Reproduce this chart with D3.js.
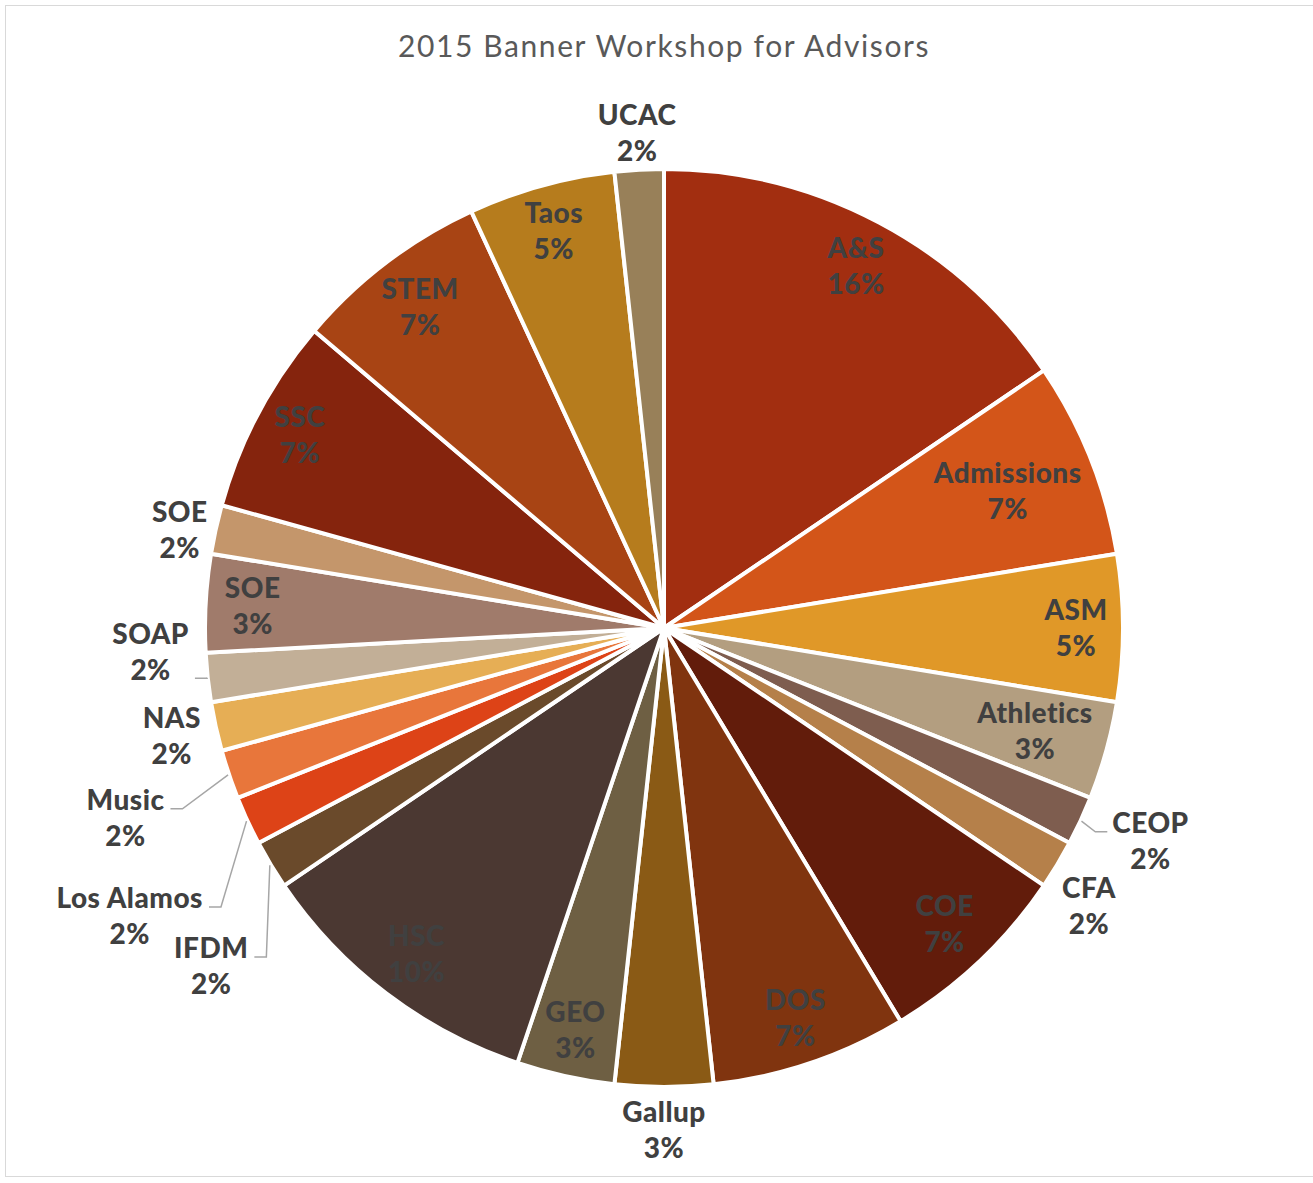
<!DOCTYPE html>
<html>
<head>
<meta charset="utf-8">
<script src="https://cdn.jsdelivr.net/npm/d3@7"></script>
<style>
  body { margin: 0; background: #fff; }
  svg { display: block; }
</style>
</head>
<body>
<div id="chart"></div>
<script>
// advisors attending, by unit (slices go clockwise from 12 o'clock)
var categories = ["A&S", "Admissions", "ASM", "Athletics", "CEOP", "CFA", "COE", "DOS",
                  "Gallup", "GEO", "HSC", "IFDM", "Los Alamos", "Music", "NAS", "SOAP",
                  "SOE", "SOE", "SSC", "STEM", "Taos", "UCAC"];
var counts = [9, 4, 3, 2, 1, 1, 4, 4, 2, 2, 6, 1, 1, 1, 1, 1, 2, 1, 4, 4, 3, 1];
var chartTitle = "2015 Banner Workshop for Advisors";

var sliceColors = ["#A22E10", "#D35519", "#E09828", "#B39E80", "#7E5D4F", "#B5804A",
                   "#621C0B", "#80340F", "#8A5A15", "#6E5F43", "#4B3832", "#6A4A2B",
                   "#DD4317", "#E8763B", "#E6AE55", "#C2AF97", "#A07B6B", "#C4966B",
                   "#85240D", "#A84414", "#B67C1D", "#988059"];

// small slices get their label outside the pie (angle nudge in degrees, radius in px)
var outsideLabels = {
    4:  {dAngle: -1.2, r: 531, leader: true},
    5:  {dAngle: 2.2,  r: 508},
    8:  {dAngle: 0,    r: 502},
    11: {dAngle: -5.7, r: 565, leader: true},
    12: {dAngle: -3.5, r: 607, leader: true},
    13: {dAngle: -0.8, r: 571, leader: true},
    14: {dAngle: 0,    r: 504},
    15: {dAngle: 3.5,  r: 514, leader: true, attachDy: 26},
    17: {dAngle: -1.0, r: 494},
    21: {dAngle: 0,    r: 496}
};

var width = 1313, height = 1183;
var cx = 664, cy = 628;
var radius = 459;          // drawn radius, white 4px border eats 2px
var visibleR = radius - 2;
var lineGap = 36, capH = 20;
var textColor = "#404040";

var svg = d3.select("#chart").append("svg")
    .attr("width", width)
    .attr("height", height);

svg.append("rect")
    .attr("x", 5.5).attr("y", 5.5)
    .attr("width", width + 20).attr("height", 1171)
    .style("fill", "none")
    .style("stroke", "#d9d9d9")
    .style("stroke-width", 1);

svg.append("text")
    .attr("x", cx)
    .attr("y", 57)
    .style("font-family", "Lato, 'Open Sans', sans-serif")
    .style("font-size", "30px")
    .style("letter-spacing", "1.6px")
    .style("fill", "#595959")
    .style("text-anchor", "middle")
    .text(chartTitle);

var total = d3.sum(counts);
var fmtPct = d3.format(".0%");

var pie = d3.pie().sort(null).value(function(d) { return d; });
var arcs = pie(counts);

var arc = d3.arc().innerRadius(0).outerRadius(radius);

var g = svg.append("g").attr("transform", "translate(" + cx + "," + cy + ")");

g.selectAll("path.slice")
    .data(arcs)
    .enter().append("path")
    .attr("class", "slice")
    .attr("d", arc)
    .style("fill", function(d, i) { return sliceColors[i]; })
    .style("stroke", "#fff")
    .style("stroke-width", 4)
    .style("stroke-linejoin", "round");

var labels = g.selectAll("text.lbl")
    .data(arcs)
    .enter().append("text")
    .attr("class", "lbl")
    .style("font-family", "Lato, 'Open Sans', sans-serif")
    .style("font-weight", 900)
    .style("font-size", "28px")
    .style("letter-spacing", "0.5px")
    .style("fill", textColor)
    .style("text-anchor", "middle");

labels.append("tspan").attr("class", "l1").text(function(d, i) { return categories[i]; });
labels.append("tspan").attr("class", "l2").text(function(d) { return fmtPct(d.value / total); });

function fitsInside(px, py, w, h, pad) {
    var lim = visibleR - pad;
    var xs = [px - w / 2, px + w / 2], ys = [py - h / 2, py + h / 2];
    for (var a = 0; a < 2; a++) {
        for (var b = 0; b < 2; b++) {
            if (Math.sqrt(xs[a] * xs[a] + ys[b] * ys[b]) > lim) return false;
        }
    }
    return true;
}

labels.each(function(d, i) {
    var t = d3.select(this);
    var w = Math.max(t.select(".l1").node().getComputedTextLength(),
                     t.select(".l2").node().getComputedTextLength());
    var h = capH + lineGap;
    var mid = (d.startAngle + d.endAngle) / 2;
    var pos;
    var conf = outsideLabels[i];
    if (conf) {
        pos = d3.pointRadial(mid + conf.dAngle * Math.PI / 180, conf.r);
    } else {
        var r = 412;
        pos = d3.pointRadial(mid, r);
        while (r > 0 && !fitsInside(pos[0], pos[1], w, h, 8)) {
            r -= 1;
            pos = d3.pointRadial(mid, r);
        }
    }
    var y1 = pos[1] - 8;
    t.select(".l1").attr("x", pos[0]).attr("y", y1);
    t.select(".l2").attr("x", pos[0]).attr("y", y1 + lineGap);

    if (conf && conf.leader) {
        var start = d3.pointRadial(mid, visibleR + 3);
        var right = pos[0] > 0;
        var ay = pos[1] + (conf.attachDy !== undefined ? conf.attachDy : -9);
        var endX = right ? pos[0] - w / 2 - 5 : pos[0] + w / 2 + 6;
        var elbowX = right ? endX - 12 : endX + 12;
        g.append("path")
            .attr("d", d3.line()([start, [elbowX, ay], [endX, ay]]))
            .style("fill", "none")
            .style("stroke", "#A6A6A6")
            .style("stroke-width", 1.5);
    }
});
</script>
</body>
</html>
